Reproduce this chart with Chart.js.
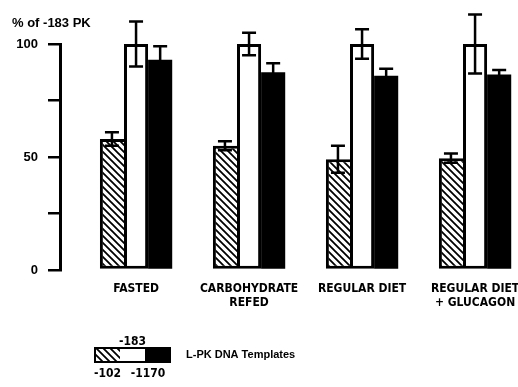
<!DOCTYPE html>
<html>
<head>
<meta charset="utf-8">
<script src="https://cdn.jsdelivr.net/npm/chart.js@4.4.1/dist/chart.umd.min.js"></script>
<style>
    html, body { margin: 0; padding: 0; background: #fff; overflow: hidden; }
    #wrap { width: 518px; height: 387px; position: relative; }
</style>
</head>
<body>
<div id="wrap"><canvas id="chart"></canvas></div>
<script>
const conditions = [['FASTED'], ['CARBOHYDRATE', 'REFED'], ['REGULAR DIET'], ['REGULAR DIET', '+ GLUCAGON']];
const templates = ['-102', '-183', '-1170'];
const values102 = [58, 55, 49, 49.5];
const err102 = [3, 2, 6, 2];
const values183 = [100, 100, 100, 100];
const err183 = [10, 5, 6.5, 13];
const values1170 = [93, 87.5, 86, 86.5];
const err1170 = [6, 4, 3, 2];
const yTicks = [0, 25, 50, 75, 100];
const yTitle = '% of -183 PK';
const legendTitle = 'L-PK DNA Templates';

const COND = "'DejaVu Sans Condensed', 'DejaVu Sans', sans-serif";
const WIDE = "'Liberation Sans', Arial, sans-serif";

function makeHatch() {
    const c = document.createElement('canvas');
    c.width = 7; c.height = 7;
    const g = c.getContext('2d');
    g.fillStyle = '#fff';
    g.fillRect(0, 0, 7, 7);
    g.strokeStyle = '#000';
    g.lineWidth = 1.8;
    g.beginPath();
    g.moveTo(-1, -1); g.lineTo(8, 8);
    g.moveTo(-1, 6); g.lineTo(1, 8);
    g.moveTo(6, -1); g.lineTo(8, 1);
    g.stroke();
    return g.createPattern(c, 'repeat');
}
const hatch = makeHatch();

const toPoints = arr => arr.map((v, i) => ({ x: i, y: v }));

// error bars, drawn through the y scale
const errorBars = {
    id: 'errorBars',
    afterDatasetsDraw(chart) {
        const ctx = chart.ctx;
        const yScale = chart.scales.y;
        ctx.save();
        ctx.strokeStyle = '#000';
        ctx.lineWidth = 2.5;
        chart.data.datasets.forEach((ds, di) => {
            const meta = chart.getDatasetMeta(di);
            meta.data.forEach((bar, i) => {
                const v = ds.data[i].y;
                const e = ds.errors[i];
                const top = yScale.getPixelForValue(v + e);
                const bot = yScale.getPixelForValue(v - e);
                ctx.beginPath();
                ctx.moveTo(bar.x, top); ctx.lineTo(bar.x, bot);
                ctx.moveTo(bar.x - 7, top); ctx.lineTo(bar.x + 7, top);
                ctx.moveTo(bar.x - 7, bot); ctx.lineTo(bar.x + 7, bot);
                ctx.stroke();
            });
        });
        ctx.restore();
    }
};

// the little composite key under the chart
const templateKey = {
    id: 'templateKey',
    afterDraw(chart) {
        const ctx = chart.ctx;
        const ds = chart.data.datasets;
        const x0 = 95, y0 = 348, w = 25, h = 14;
        ctx.save();
        ds.forEach((d, i) => {
            ctx.fillStyle = d.backgroundColor;
            ctx.fillRect(x0 + i * w, y0, w, h);
        });
        ctx.strokeStyle = '#000';
        ctx.lineWidth = 2;
        ctx.strokeRect(x0, y0, w * ds.length, h);
        ctx.fillStyle = '#000';
        ctx.textAlign = 'center';
        ctx.textBaseline = 'middle';
        ctx.font = 'bold 12px ' + COND;
        ctx.fillText(ds[1].label, x0 + w * 1.5, 342);
        ctx.fillText(ds[0].label, x0 + w * 0.5, 374);
        ctx.fillText(ds[2].label, x0 + w * 2 + 3, 374);
        ctx.textAlign = 'left';
        ctx.font = 'bold 11px ' + WIDE;
        ctx.fillText(legendTitle, 186, 355);
        ctx.restore();
    }
};

const barCommon = {
    borderColor: '#000',
    borderSkipped: false,
    categoryPercentage: 0.64,
    barPercentage: 1
};

new Chart(document.getElementById('chart'), {
    type: 'bar',
    data: {
        datasets: [
            Object.assign({ label: templates[0], data: toPoints(values102), errors: err102,
                backgroundColor: hatch, borderWidth: { top: 3, left: 3, bottom: 3, right: 0 } }, barCommon),
            Object.assign({ label: templates[1], data: toPoints(values183), errors: err183,
                backgroundColor: '#fff', borderWidth: 3 }, barCommon),
            Object.assign({ label: templates[2], data: toPoints(values1170), errors: err1170,
                backgroundColor: '#000', borderWidth: 0 }, barCommon)
        ]
    },
    options: {
        responsive: true,
        maintainAspectRatio: false,
        animation: false,
        layout: { autoPadding: false, padding: { left: 12, top: 16, right: 0, bottom: 77 } },
        plugins: {
            legend: { display: false },
            tooltip: { enabled: false },
            title: {
                display: true,
                text: yTitle,
                align: 'start',
                color: '#000',
                font: { family: WIDE, size: 13, weight: 'bold' },
                padding: { top: 0, bottom: 12.4 }
            }
        },
        scales: {
            x: {
                type: 'linear',
                offset: false,
                min: -0.673,
                max: 3.38,
                grid: { display: false, drawTicks: false, offset: false },
                border: { display: false },
                afterBuildTicks: s => { s.ticks = conditions.map((c, i) => ({ value: i })); },
                afterFit: s => { s.height = 40; s.paddingLeft = 0; s.paddingRight = 0; },
                ticks: {
                    padding: 12,
                    maxRotation: 0,
                    autoSkip: false,
                    color: '#000',
                    font: { family: COND, size: 12, weight: 'bold', lineHeight: '14px' },
                    callback: (v, i) => conditions[i]
                }
            },
            y: {
                min: 0,
                max: 100,
                afterBuildTicks: s => { s.ticks = yTicks.map(v => ({ value: v })); },
                afterFit: s => { s.width = 48; },
                grid: { drawOnChartArea: false, tickLength: 12, lineWidth: 2.5, color: '#000' },
                border: { display: true, width: 3, color: '#000' },
                ticks: {
                    padding: 10,
                    color: '#000',
                    font: { family: WIDE, size: 13, weight: 'bold' },
                    callback: v => (v % 50 === 0 ? v : '')
                }
            }
        }
    },
    plugins: [errorBars, templateKey]
});
</script>
</body>
</html>
